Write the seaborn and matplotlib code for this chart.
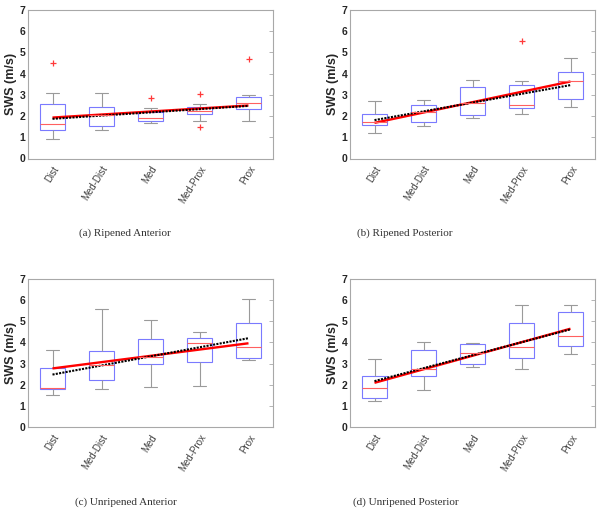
#!/usr/bin/python3

# imports
import pandas as pd
import matplotlib
matplotlib.use("Agg")
import matplotlib.pyplot as plt
import seaborn as sns

# data (five number summary per segment, SWS in m/s)
categories = ["Dist", "Med-Dist", "Med", "Med-Prox", "Prox"]
captions = ["(a) Ripened Anterior", "(b) Ripened Posterior",
            "(c) Unripened Anterior", "(d) Unripened Posterior"]

# (a) ripened anterior
ra_lo = [0.90, 1.32, 1.65, 1.79, 1.79]
ra_q1 = [1.32, 1.54, 1.79, 2.08, 2.31]
ra_med = [1.62, 2.07, 1.89, 2.23, 2.61]
ra_q3 = [2.55, 2.45, 2.19, 2.41, 2.92]
ra_hi = [3.11, 3.07, 2.36, 2.55, 3.00]
ra_out_lo = [None, None, None, 1.48, None]
ra_out_hi = [4.48, None, 2.83, 3.03, 4.69]
ra_red = [1.93, 2.50]
ra_black = [1.87, 2.48]

# (b) ripened posterior
rp_lo = [1.18, 1.51, 1.89, 2.12, 2.45]
rp_q1 = [1.60, 1.70, 2.03, 2.36, 2.81]
rp_med = [1.73, 2.20, 2.63, 2.50, 3.63]
rp_q3 = [2.12, 2.50, 3.35, 3.47, 4.09]
rp_hi = [2.72, 2.74, 3.71, 3.66, 4.76]
rp_out_lo = [None, None, None, None, None]
rp_out_hi = [None, None, None, 5.52, None]
rp_red = [1.68, 3.63]
rp_black = [1.81, 3.46]

# (c) unripened anterior
ua_lo = [1.51, 1.79, 1.89, 1.93, 3.18]
ua_q1 = [1.79, 2.24, 2.97, 3.07, 3.25]
ua_med = [1.84, 2.95, 3.32, 3.96, 3.77]
ua_q3 = [2.77, 3.58, 4.17, 4.21, 4.91]
ua_hi = [3.66, 5.57, 5.05, 4.51, 6.07]
ua_out_lo = [None, None, None, None, None]
ua_out_hi = [None, None, None, None, None]
ua_red = [2.77, 3.96]
ua_black = [2.48, 4.20]

# (d) unripened posterior
up_lo = [1.23, 1.76, 2.83, 2.74, 3.44]
up_q1 = [1.37, 2.41, 2.97, 3.27, 3.84]
up_med = [1.84, 2.72, 3.49, 3.77, 4.31]
up_q3 = [2.41, 3.63, 3.92, 4.91, 5.42]
up_hi = [3.21, 4.04, 3.96, 5.75, 5.75]
up_out_lo = [None, None, None, None, None]
up_out_hi = [None, None, None, None, None]
up_red = [2.09, 4.65]
up_black = [2.17, 4.62]


def build_frame(lo, q1, med, q3, hi):
    # nine values per segment so the quartiles land exactly on q1/med/q3
    rows = []
    for i, cat in enumerate(categories):
        for v in [lo[i], lo[i], q1[i], q1[i], med[i], q3[i], q3[i], hi[i], hi[i]]:
            rows.append((cat, v))
    return pd.DataFrame(rows, columns=["segment", "sws"])


def outlier_points(out_lo, out_hi):
    xs, ys = [], []
    for i in range(len(categories)):
        for v in (out_lo[i], out_hi[i]):
            if v is not None:
                xs.append(i)
                ys.append(v)
    return xs, ys


panels = [
    (build_frame(ra_lo, ra_q1, ra_med, ra_q3, ra_hi), outlier_points(ra_out_lo, ra_out_hi), ra_red, ra_black),
    (build_frame(rp_lo, rp_q1, rp_med, rp_q3, rp_hi), outlier_points(rp_out_lo, rp_out_hi), rp_red, rp_black),
    (build_frame(ua_lo, ua_q1, ua_med, ua_q3, ua_hi), outlier_points(ua_out_lo, ua_out_hi), ua_red, ua_black),
    (build_frame(up_lo, up_q1, up_med, up_q3, up_hi), outlier_points(up_out_lo, up_out_hi), up_red, up_black),
]

sns.set_style("white")
plt.rcParams["font.family"] = ["Liberation Sans", "DejaVu Sans"]

W, H = 603, 514
fig = plt.figure(figsize=(W / 100, H / 100), dpi=100)

# axes boxes in pixels: left, top, right, bottom
boxes = [(28, 10, 273, 158.5), (350, 10, 595, 158.5),
         (28, 279, 273, 427), (350, 279, 595, 427)]
caption_pos = [(125, 233), (405, 233), (126, 502), (406, 502)]

box_blue = "#7a7aff"
gray = "#9a9a9a"
flier_red = "#ff3a3a"

for (df, (ox, oy), red, black), (l, t, r, b), cap, (cx, cy) in zip(panels, boxes, captions, caption_pos):
    ax = fig.add_axes([l / W, (H - b) / H, (r - l) / W, (b - t) / H])
    sns.boxplot(data=df, x="segment", y="sws", order=categories, ax=ax,
                width=0.5, whis=1.5, showfliers=False,
                boxprops=dict(facecolor="none", edgecolor=box_blue, linewidth=0.8),
                medianprops=dict(color="#ff6060", linewidth=0.8),
                whiskerprops=dict(color=gray, linewidth=0.8),
                capprops=dict(color=gray, linewidth=0.8))
    # outliers as red crosses
    ax.plot(ox, oy, linestyle="none", marker="+", markersize=4.5,
            markeredgewidth=0.9, color=flier_red)
    # linear fits across the segments
    ends = [0, len(categories) - 1]
    ax.plot(ends, red, color="red", linewidth=1.7, solid_capstyle="butt")
    ax.plot(ends, black, color="black", linestyle=(0, (1.0, 0.6)), linewidth=1.5)

    ax.set_xlim(-0.5, 4.5)
    ax.set_ylim(0, 7)
    ax.set_yticks(range(8))
    ax.set_xlabel("")
    ax.set_ylabel("SWS (m/s)", fontsize=9, fontweight="bold", labelpad=1.5)
    for s in ax.spines.values():
        s.set_color("#a8a8a8")
        s.set_linewidth(0.8)
    ax.tick_params(axis="y", direction="in", right=True, length=3, width=0.6,
                   color="#a8a8a8", labelsize=7.5, pad=2)
    ax.tick_params(axis="x", direction="in", length=0, labelsize=7,
                   labelcolor="#404040", pad=4)
    for lab in ax.get_yticklabels():
        lab.set_fontweight("bold")
    for lab in ax.get_xticklabels():
        lab.set_rotation(58)
        lab.set_ha("right")
        lab.set_rotation_mode("anchor")
    fig.text(cx / W, (H - cy) / H, cap, ha="center", va="center",
             fontsize=8, family=["Liberation Serif", "DejaVu Serif"], color="#333333")

fig.savefig("out.png", dpi=100)
